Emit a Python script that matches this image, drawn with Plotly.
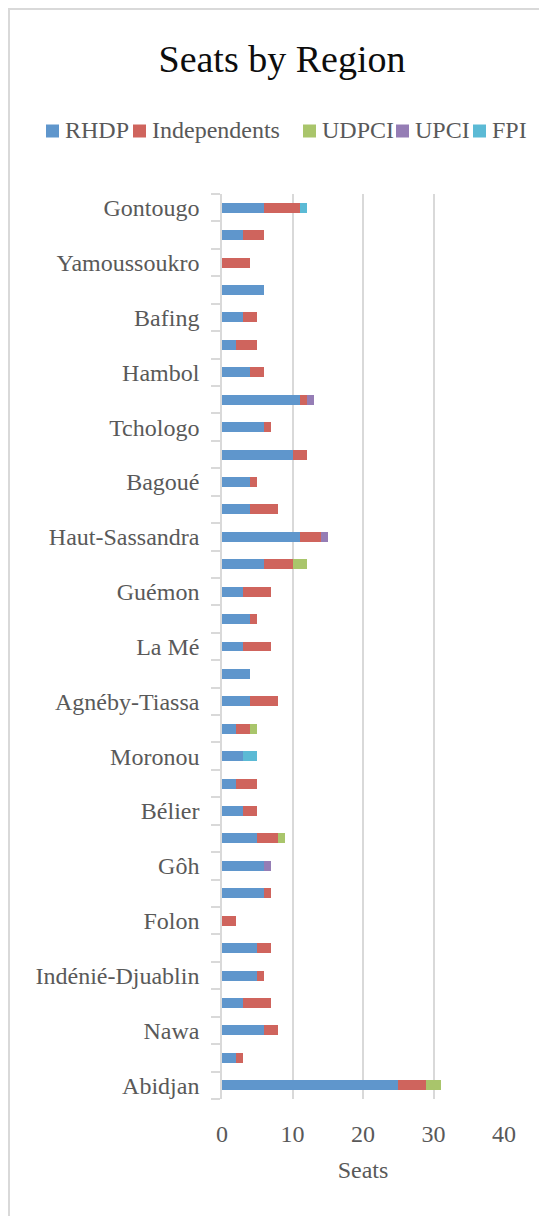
import plotly.graph_objects as go

regions = ["Gontougo", "Bounkani", "Yamoussoukro", "Iffou", "Bafing", "Kabadougou",
           "Hambol", "Gbêkê", "Tchologo", "Poro", "Bagoué", "Marahoué",
           "Haut-Sassandra", "Lôh-Djiboua", "Guémon", "Tonkpi", "La Mé", "Grands-Ponts",
           "Agnéby-Tiassa", "N'Zi", "Moronou", "Béré", "Bélier", "San-Pédro",
           "Gôh", "Cavally", "Folon", "Sud-Comoé", "Indénié-Djuablin", "Worodougou",
           "Nawa", "Gbôklé", "Abidjan"]
shown_labels = [r if i % 2 == 0 else "" for i, r in enumerate(regions)]

rhdp =         [6, 3, 0, 6, 3, 2, 4, 11, 6, 10, 4, 4, 11, 6, 3, 4, 3, 4, 4, 2, 3, 2, 3, 5, 6, 6, 0, 5, 5, 3, 6, 2, 25]
independents = [5, 3, 4, 0, 2, 3, 2, 1, 1, 2, 1, 4, 3, 4, 4, 1, 4, 0, 4, 2, 0, 3, 2, 3, 0, 1, 2, 2, 1, 4, 2, 1, 4]
udpci =        [0, 0, 0, 0, 0, 0, 0, 0, 0, 0, 0, 0, 0, 2, 0, 0, 0, 0, 0, 1, 0, 0, 0, 1, 0, 0, 0, 0, 0, 0, 0, 0, 2]
upci =         [0, 0, 0, 0, 0, 0, 0, 1, 0, 0, 0, 0, 1, 0, 0, 0, 0, 0, 0, 0, 0, 0, 0, 0, 1, 0, 0, 0, 0, 0, 0, 0, 0]
fpi =          [1, 0, 0, 0, 0, 0, 0, 0, 0, 0, 0, 0, 0, 0, 0, 0, 0, 0, 0, 0, 2, 0, 0, 0, 0, 0, 0, 0, 0, 0, 0, 0, 0]

series_names = ["RHDP", "Independents", "UDPCI", "UPCI", "FPI"]
series_values = [rhdp, independents, udpci, upci, fpi]
colors = ["#5F96CC", "#CF645D", "#A9C56B", "#957DB5", "#5BBAD5"]

x_ticks = [0, 10, 20, 30, 40]

FONT = "Liberation Serif"
GRAY = "#595959"
LIGHT = "#D9D9D9"

fig = go.Figure()
for name, vals, col in zip(series_names, series_values, colors):
    fig.add_trace(go.Bar(
        y=regions, x=vals, name=name, orientation="h",
        marker=dict(color=col, line=dict(width=0)),
        showlegend=False,
    ))

# page body adds an 8px offset; all pixel positions below are in figure coordinates
W, H = 547, 1216
L, R, T, B = 214, 51, 186, 125
pw, ph = W - L - R, H - T - B

def px_x(px):
    return (px - L) / pw

def px_y(py):
    return (H - B - py) / ph

# legend drawn as squares + labels
legend_sq_left = [38, 125, 295, 388, 465]
legend_y = 122
sq = 13
shapes = [dict(type="rect", xref="paper", yref="paper",
               x0=px_x(1), x1=px_x(600), y0=px_y(1), y1=px_y(1260),
               line=dict(color=LIGHT, width=2), fillcolor="rgba(0,0,0,0)", layer="below")]
annotations = []
for name, col, x0 in zip(series_names, colors, legend_sq_left):
    shapes.append(dict(type="rect", xref="paper", yref="paper",
                       x0=px_x(x0), x1=px_x(x0 + sq),
                       y0=px_y(legend_y - sq / 2 + 1), y1=px_y(legend_y + sq / 2 + 1),
                       line=dict(width=0), fillcolor=col))
    annotations.append(dict(text=name, xref="paper", yref="paper",
                            x=px_x(x0 + sq + 4), y=px_y(legend_y), xanchor="left",
                            yanchor="middle", showarrow=False,
                            font=dict(family=FONT, size=24, color=GRAY)))

fig.update_layout(
    width=W, height=H,
    margin=dict(l=L, r=R, t=T, b=B),
    paper_bgcolor="white", plot_bgcolor="white",
    barmode="stack", bargap=0.636,
    font=dict(family=FONT, color=GRAY, size=24),
    title=dict(text="Seats by Region", x=px_x(274), xref="paper", xanchor="center",
               y=1 - 51 / H, yanchor="middle", yref="container",
               font=dict(family=FONT, size=38, color="#0D0D0D")),
    xaxis=dict(range=[0, 40], tickmode="array", tickvals=x_ticks,
               showgrid=True, gridcolor=LIGHT, gridwidth=1.5,
               zeroline=False, showline=False,
               ticks="outside", ticklen=13, tickcolor="rgba(0,0,0,0)",
               tickfont=dict(size=24, color=GRAY),
               title=dict(text="Seats", font=dict(size=24, color=GRAY), standoff=15)),
    yaxis=dict(type="category", autorange="reversed",
               tickmode="array", tickvals=regions, ticktext=shown_labels,
               tickson="boundaries", ticks="outside", ticklen=9,
               tickcolor=LIGHT, tickwidth=1.5,
               showline=True, linecolor=LIGHT, linewidth=1.5,
               showgrid=False, zeroline=False,
               ticklabelstandoff=16,
               tickfont=dict(size=24, color=GRAY)),
    annotations=annotations,
    shapes=shapes,
)

fig.write_html("out.html")
